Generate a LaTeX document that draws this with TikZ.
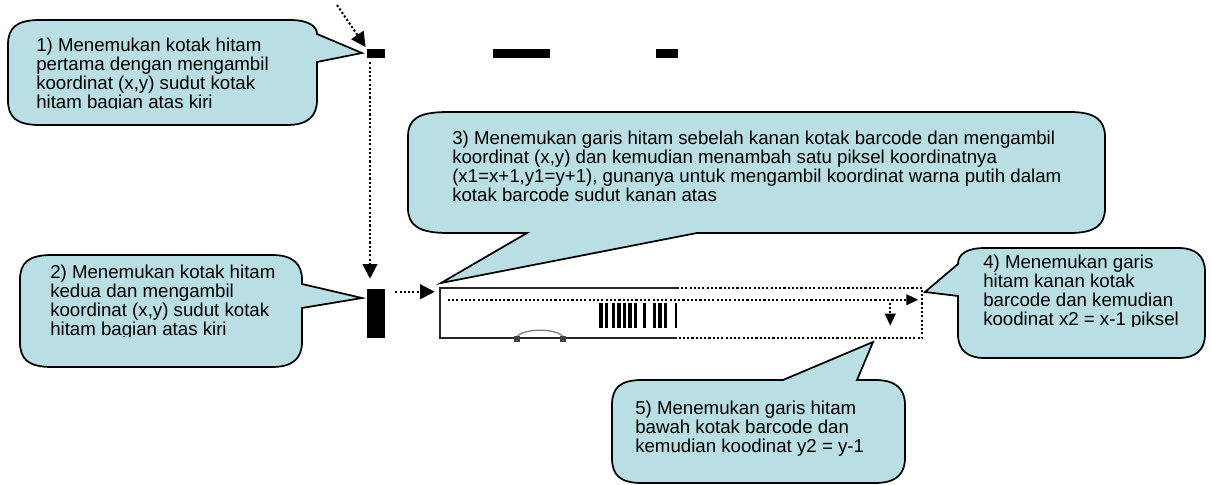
\documentclass[tikz,border=0pt]{standalone}
\usepackage{fontspec}
\setmainfont{Liberation Sans}
\usetikzlibrary{arrows.meta,calc}
\definecolor{callfill}{RGB}{185,222,227}
\tikzset{
  callout/.style={draw=black, line width=1.3pt, fill=callfill, line join=miter},
  ctext/.style={anchor=north west, inner sep=0pt, align=left, font=\fontsize{14}{14.1}\selectfont},
  blk/.style={fill=black, inner sep=0pt, draw=none},
  dotl/.style={line width=1.5pt, dash pattern=on 1.6pt off 1.6pt},
  dotarrow/.style={dotl, -{Triangle[length=11pt,width=11pt]}},
  smallarrow/.style={dotl, -{Triangle[length=9pt,width=8pt]}},
  solidl/.style={line width=1.5pt, black!85},
}
\begin{document}
\begin{tikzpicture}[x=0.75pt,y=-0.75pt]
\useasboundingbox (0,0) rectangle (1211,485);

% callout 1
\path[callout] (8,45) .. controls (8,28) and (16,20) .. (40,20) -- (290,20)
  .. controls (308,20) and (317,26) .. (317,34) -- (362,53) -- (317,62) -- (317,100)
  .. controls (317,117) and (307,125) .. (287,125) -- (40,125)
  .. controls (16,125) and (8,117) .. (8,100) -- cycle;
% callout 2
\path[callout] (20,280) .. controls (20,263) and (28,255) .. (52,255) -- (272,255)
  .. controls (292,255) and (302,263) .. (302,280) -- (302,284) -- (362,298) -- (302,308) -- (302,342)
  .. controls (302,359) and (292,367) .. (272,367) -- (52,367)
  .. controls (28,367) and (20,359) .. (20,342) -- cycle;
% callout 3
\path[callout] (408,137) .. controls (408,119) and (418,112) .. (448,112) -- (1070,112)
  .. controls (1095,112) and (1105,120) .. (1105,137) -- (1105,208)
  .. controls (1105,225) and (1095,233) .. (1070,233) -- (697,233) -- (441,283) -- (527,233) -- (448,233)
  .. controls (418,233) and (408,225) .. (408,208) -- cycle;
% callout 4
\path[callout] (985,248) -- (1178,248) .. controls (1196,248) and (1205,256) .. (1205,272) -- (1205,334)
  .. controls (1205,350) and (1196,358) .. (1178,358) -- (985,358)
  .. controls (967,358) and (958,350) .. (958,334) -- (958,296) -- (925,292) -- (958,264)
  .. controls (958,254) and (967,248) .. (985,248) -- cycle;
% callout 5
\path[callout] (612,405) .. controls (612,388) and (620,380) .. (642,380) -- (783,380) -- (873,342) -- (857,380) -- (875,380)
  .. controls (895,380) and (905,388) .. (905,405) -- (905,458)
  .. controls (905,475) and (895,483) .. (875,483) -- (642,483)
  .. controls (620,483) and (612,475) .. (612,458) -- cycle;

% texts
\begin{scope}
\clip (0,0) rectangle (330,109);
\node[ctext] (t1) at (36,38) {1) Menemukan kotak hitam\\pertama dengan mengambil\\koordinat (x,y) sudut kotak\\hitam bagian atas kiri};
\end{scope}
\begin{scope}
\clip (0,240) rectangle (330,336);
\node[ctext] (t2) at (50,265) {2) Menemukan kotak hitam\\kedua dan mengambil\\koordinat (x,y) sudut kotak\\hitam bagian atas kiri};
\end{scope}
\node[ctext] (t3) at (452,131) {3) Menemukan garis hitam sebelah kanan kotak barcode dan mengambil\\koordinat (x,y) dan kemudian menambah satu piksel koordinatnya\\(x1=x+1,y1=y+1), gunanya untuk mengambil koordinat warna putih dalam\\kotak barcode sudut kanan atas};
\begin{scope}
\clip (940,240) rectangle (1211,326);
\node[ctext] (t4) at (983,255) {4) Menemukan garis\\hitam kanan kotak\\barcode dan kemudian\\koodinat x2 = x-1 piksel};
\end{scope}
\node[ctext] (t5) at (635,401) {5) Menemukan garis hitam\\bawah kotak barcode dan\\kemudian koodinat y2 = y-1};

% black marks
\node[blk, minimum width=13.5pt, minimum height=6.75pt] (b1) at (376,53.5) {};
\node[blk, minimum width=42.75pt, minimum height=6.75pt] (bm) at (521.5,53.5) {};
\node[blk, minimum width=16.5pt, minimum height=6.75pt] (b3) at (667,53.5) {};
\node[blk, minimum width=13.5pt, minimum height=36.75pt] (b2) at (376,313.5) {};

% barcode box
\node[inner sep=0pt, minimum width=361.5pt, minimum height=37.5pt] (bc) at (681,313) {};
\draw[solidl] ($(bc.north west)+(237,0)$) -- (bc.north west) -- (bc.south west) -- ($(bc.south west)+(237,0)$);
\draw[dotl] ($(bc.north west)+(237,0)$) -- (bc.north east) -- (bc.south east) -- ($(bc.south west)+(237,0)$);
\foreach \a/\b in {599/603, 605/608, 612/615, 617/621, 623/626, 628/632, 634/637, 643/646, 653/656, 658/662, 664/667, 675/677}
  \fill (\a,303) rectangle (\b,328);
\draw[gray, line width=1pt] (517,337) .. controls (522,328) and (558,328) .. (563,337);
\fill[black!75] (514,336) rectangle (520,342);
\fill[black!75] (560,336) rectangle (566,342);

% connectors
\coordinate (s0) at (337,5);
\draw[dotarrow, shorten >=1.5pt] (s0) -- (b1.north west);
\draw[dotarrow] ($(b1.south)+(-6,4)$) -- ($(b2.north)+(-6,-10)$);
\draw[dotarrow] ($(b2.north east)+(10,3)$) -- ($(bc.north west)+(-5,4)$);
\draw[smallarrow] ($(bc.north west)+(8,12)$) -- ($(bc.north east)+(-4,12)$);
\draw[smallarrow] ($(bc.north east)+(-32,15)$) -- ($(bc.north east)+(-32,38)$);
\end{tikzpicture}
\end{document}
